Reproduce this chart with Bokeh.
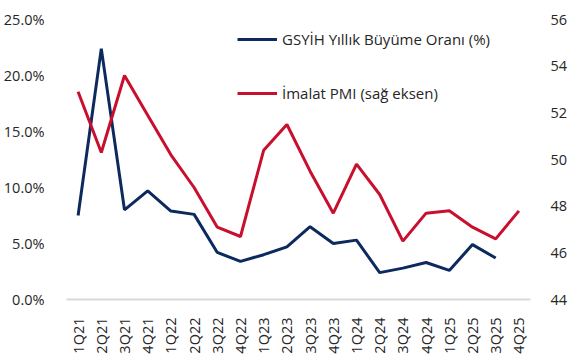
from bokeh.plotting import figure
from bokeh.models import Range1d, LinearAxis, FixedTicker, PrintfTickFormatter, Legend, LegendItem, FactorRange
from bokeh.embed import file_html
from bokeh.resources import INLINE
import math

quarters = ["1Q21","2Q21","3Q21","4Q21","1Q22","2Q22","3Q22","4Q22",
            "1Q23","2Q23","3Q23","4Q23","1Q24","2Q24","3Q24","4Q24",
            "1Q25","2Q25","3Q25","4Q25"]
gdp_growth = [7.5, 22.4, 8.0, 9.7, 7.9, 7.6, 4.2, 3.4, 4.0, 4.7, 6.5, 5.0, 5.3, 2.4, 2.8, 3.3, 2.6, 4.9, 3.7]
pmi = [52.9, 50.3, 53.6, 51.9, 50.2, 48.8, 47.1, 46.7, 50.4, 51.5, 49.5, 47.7, 49.8, 48.5, 46.5, 47.7, 47.8, 47.1, 46.6, 47.8]
left_ticks = [0, 5, 10, 15, 20, 25]
right_ticks = [44, 46, 48, 50, 52, 54, 56]

FONT = "Open Sans"
TXT = "#262626"
BLUE = "#0C2A5E"
RED = "#C8102E"

p = figure(width=570, height=363, x_range=FactorRange(*quarters, range_padding=0),
           y_range=Range1d(0, 25), output_backend="svg", toolbar_location=None,
           min_border_left=64, min_border_right=38, min_border_top=19, min_border_bottom=64)
p.extra_y_ranges = {"pmi": Range1d(44, 56)}
p.outline_line_color = None
p.xgrid.visible = False
p.ygrid.visible = False
p.background_fill_color = "white"
p.border_fill_color = "white"

l1 = p.line(quarters[:len(gdp_growth)], gdp_growth, line_color=BLUE, line_width=3)
l2 = p.line(quarters, pmi, line_color=RED, line_width=3, y_range_name="pmi")

# left axis
ya = p.yaxis[0]
ya.ticker = FixedTicker(ticks=left_ticks)
ya.formatter = PrintfTickFormatter(format="%.1f%%")
ya.axis_line_color = None
ya.major_tick_line_color = None
ya.minor_tick_line_color = None
ya.major_label_text_font = FONT
ya.major_label_text_font_size = "14.5px"
ya.major_label_text_color = TXT
ya.major_label_standoff = 16

# right axis
ra = LinearAxis(y_range_name="pmi", ticker=FixedTicker(ticks=right_ticks))
ra.axis_line_color = None
ra.major_tick_line_color = None
ra.minor_tick_line_color = None
ra.major_label_text_font = FONT
ra.major_label_text_font_size = "14.5px"
ra.major_label_text_color = TXT
ra.major_label_standoff = 14
p.add_layout(ra, "right")

# x axis
xa = p.xaxis[0]
xa.axis_line_color = "#D9D9D9"
xa.axis_line_width = 2
xa.major_tick_line_color = None
xa.minor_tick_line_color = None
xa.major_label_orientation = math.pi / 2
xa.major_label_text_font = FONT
xa.major_label_text_font_size = "14.5px"
xa.major_label_text_color = TXT
xa.major_label_standoff = 12

legend = Legend(items=[LegendItem(label="GSYİH Yıllık Büyüme Oranı (%)", renderers=[l1]),
                       LegendItem(label="İmalat PMI (sağ eksen)", renderers=[l2])],
                location=(171, 196), orientation="vertical")
legend.border_line_color = None
legend.background_fill_alpha = 0
legend.padding = 0
legend.margin = 0
legend.spacing = 34
legend.glyph_width = 40
legend.glyph_height = 20
legend.label_height = 20
legend.label_standoff = 5
legend.label_text_font = FONT
legend.label_text_font_size = "15px"
legend.label_text_color = TXT
p.add_layout(legend)

open("out.html", "w").write(file_html(p, INLINE))
